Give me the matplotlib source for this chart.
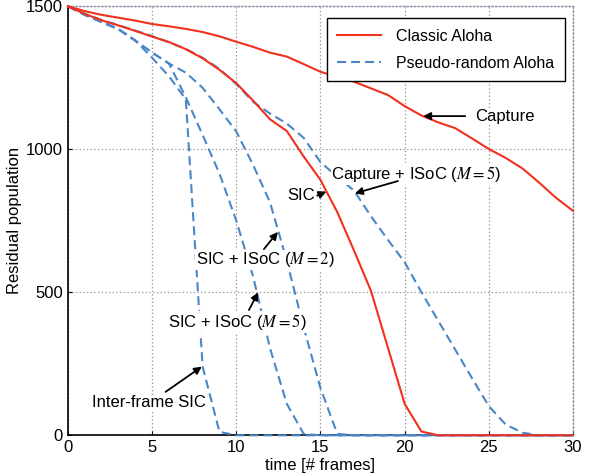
import numpy as np
import matplotlib
matplotlib.use('Agg')
import matplotlib.pyplot as plt
from matplotlib.lines import Line2D

plt.rcParams['font.family'] = ['Liberation Sans', 'DejaVu Sans']
plt.rcParams['mathtext.fontset'] = 'stix'
plt.rcParams['lines.scale_dashes'] = False

frames = np.arange(0, 31)

# classic aloha (red, solid)
capture = [1500, 1483, 1470, 1460, 1450, 1438, 1430, 1421, 1410, 1395,
           1376, 1358, 1338, 1324, 1298, 1271, 1253, 1236, 1213, 1190,
           1151, 1118, 1094, 1074, 1038, 1001, 970, 933, 883, 830, 785]
sic = [1500, 1473, 1451, 1433, 1414, 1394, 1375, 1350, 1318, 1278,
       1231, 1170, 1105, 1064, 975, 893, 780, 645, 505, 308,
       110, 13, 0, 0, 0, 0, 0, 0, 0, 0, 0]

# pseudo-random aloha (blue, dashed)
capture_isoc5 = [1500, 1474, 1452, 1434, 1415, 1396, 1374, 1351, 1320, 1281,
                 1228, 1166, 1125, 1090, 1040, 955, 904, 855, 766, 684,
                 605, 500, 400, 300, 200, 102, 38, 9, 0, 0, 0]
sic_isoc2 = [1500, 1470, 1445, 1420, 1380, 1338, 1300, 1268, 1215, 1140,
             1062, 945, 815, 610, 378, 165, 5, 0, 0, 0,
             0, 0, 0, 0, 0, 0, 0, 0, 0, 0, 0]
sic_isoc5 = [1500, 1470, 1445, 1420, 1380, 1338, 1300, 1182, 1050, 915,
             750, 555, 305, 110, 5, 0, 0, 0, 0, 0,
             0, 0, 0, 0, 0, 0, 0, 0, 0, 0, 0]
inter_frame = [1500, 1470, 1445, 1420, 1380, 1320, 1255, 1175, 240, 12,
               0, 0, 0, 0, 0, 0, 0, 0, 0, 0,
               0, 0, 0, 0, 0, 0, 0, 0, 0, 0, 0]

red = '#f2301e'
blue = '#4a86c8'
dash = (6.5, 3.6)

fig = plt.figure(figsize=(5.91, 4.76), dpi=100)
ax = fig.add_axes([0.115, 0.0855, 0.8545, 0.9013])

for ys in [capture_isoc5, sic_isoc2, sic_isoc5, inter_frame]:
    ax.plot(frames, ys, color=blue, lw=1.5, dashes=dash, clip_on=False, zorder=3)
for ys in [capture, sic]:
    ax.plot(frames, ys, color=red, lw=1.5, clip_on=False, zorder=4)

ax.set_xlim(0, 30)
ax.set_ylim(0, 1500)
ax.set_xticks(range(0, 31, 5))
ax.set_yticks([0, 500, 1000, 1500])
ax.tick_params(labelsize=12, direction='in', length=3, width=0.8,
               top=False, right=False)
ax.grid(True, color='#9a9a9a', linestyle=':', lw=0.9)
for s in ['top', 'right']:
    ax.spines[s].set_color('#8a8fa0')
    ax.spines[s].set_linestyle(':')
    ax.spines[s].set_linewidth(1.0)
for s in ['left', 'bottom']:
    ax.spines[s].set_linewidth(1.2)

ax.set_xlabel('time [# frames]', fontsize=12, labelpad=2)
ax.set_ylabel('Residual population', fontsize=12)
ax.yaxis.set_label_coords(-0.092, 0.5)

box = dict(facecolor='white', edgecolor='none', pad=0.5)
arrow = dict(arrowstyle='-|>', color='k', lw=1.3, mutation_scale=11,
             shrinkA=0, shrinkB=0)


def label(txt, x, y, ha='center'):
    ax.text(x, y, txt, fontsize=12, ha=ha, va='center', bbox=box, zorder=6)


def pointer(tail, head):
    ax.annotate('', xy=head, xytext=tail, arrowprops=arrow, zorder=7)


label('Capture', 24.2, 1116, ha='left')
pointer((23.6, 1116), (21.1, 1116))

label('Capture + ISoC ($M = 5$)', 20.7, 914)
pointer((19.6, 889), (17.05, 846))

label('SIC', 13.85, 840)
pointer((14.8, 838), (15.35, 852))

label('SIC + ISoC ($M = 2$)', 11.7, 613)
pointer((11.64, 651), (12.47, 711))

label('SIC + ISoC ($M = 5$)', 10.05, 396)
pointer((10.75, 438), (11.3, 500))

label('Inter-frame SIC', 4.8, 113)
pointer((5.8, 152), (7.95, 240))

handles = [Line2D([], [], color=red, lw=1.5),
           Line2D([], [], color=blue, lw=1.5, dashes=dash)]
leg = ax.legend(handles, ['Classic Aloha', 'Pseudo-random Aloha'],
                loc='upper right', bbox_to_anchor=(0.984, 0.972),
                borderaxespad=0, fancybox=False, edgecolor='k',
                framealpha=1, fontsize=11.5, handlelength=2.75,
                handletextpad=0.95, labelspacing=0.75, borderpad=0.65)
leg.get_frame().set_linewidth(1.0)
leg.set_zorder(8)

fig.savefig('out.png', dpi=100)
